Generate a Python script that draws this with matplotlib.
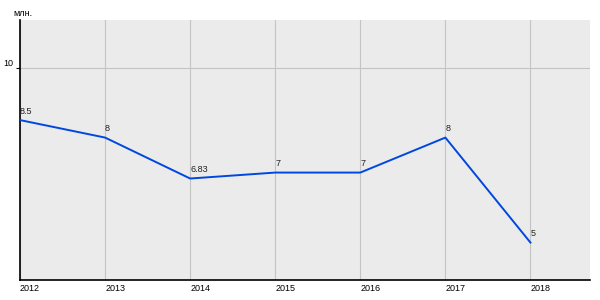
import matplotlib
matplotlib.use('Agg')
import matplotlib.pyplot as plt

years = [2012, 2013, 2014, 2015, 2016, 2017, 2018]
values = [8.5, 8.0, 6.83, 7.0, 7.0, 8.0, 5.0]
labels = ['8.5', '8', '6.83', '7', '7', '8', '5']
unit = 'млн.'

plt.rcParams['font.family'] = ['Liberation Sans', 'DejaVu Sans']

fig = plt.figure(figsize=(6, 3), dpi=100)
ax = fig.add_axes([20 / 600, 20 / 300, 570 / 600, 260 / 300])
ax.set_facecolor('#ebebeb')

ax.plot(years, values, color='#0047e0', lw=1.4, zorder=3)
for x, y, t in zip(years, values, labels):
    ax.annotate(t, (x, y), xytext=(0, 3), textcoords='offset points',
                ha='left', va='bottom', fontsize=6.5, color='#222222')

ax.set_xlim(2012, 2018.7)
ax.set_ylim(3.93, 11.36)
ax.set_xticks(years)
ax.set_xticklabels([str(y) for y in years], ha='left', fontsize=6.5)
ax.set_yticks([10])
ax.set_yticklabels(['10'], fontsize=6.5, va='bottom')
ax.tick_params(axis='x', length=0, pad=3)
ax.tick_params(axis='y', length=3, width=0.8, pad=2)
ax.grid(True, color='#c4c4c4', lw=0.8)
ax.set_axisbelow(True)
for s in ['top', 'right']:
    ax.spines[s].set_visible(False)
ax.spines['left'].set_linewidth(1.2)
ax.spines['bottom'].set_linewidth(1.2)

fig.text(13 / 600, 1 - 14 / 300, unit, fontsize=6.5, ha='left', va='center')

fig.savefig('out.png', dpi=100)
